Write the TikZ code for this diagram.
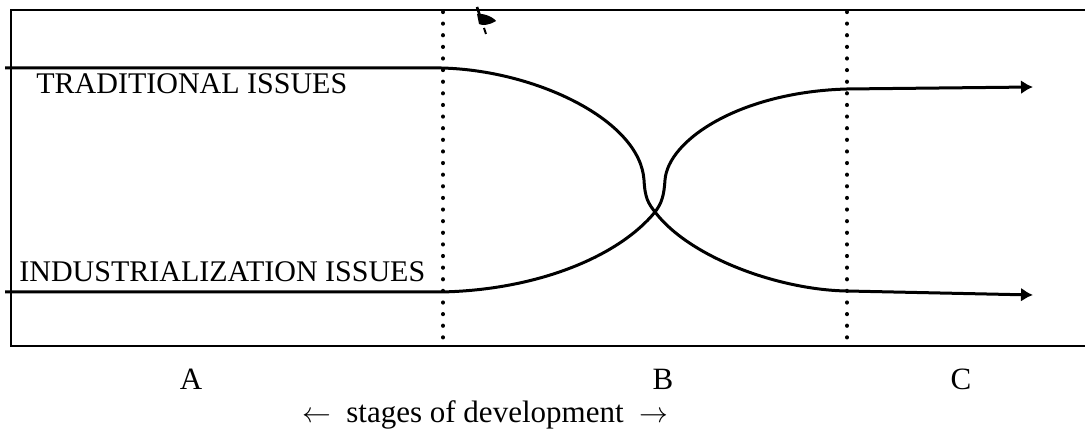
\documentclass[tikz,border=0pt]{standalone}
\usepackage{fontspec}
\setmainfont{Liberation Serif}
\usetikzlibrary{arrows.meta}
\begin{document}
\begin{tikzpicture}[x=0.5pt,y=-0.5pt,
  frame/.style={line width=1.1pt},
  curveline/.style={line width=1.5pt},
  dotline/.style={line width=2.1pt,line cap=round,dash pattern=on 0.01pt off 5.8pt},
  lbl/.style={inner sep=0pt,anchor=base,font=\fontsize{15.5}{18}\selectfont},
  issue/.style={inner sep=0pt,anchor=base west,font=\fontsize{15}{18}\selectfont},
  tip/.style={-{Latex[length=6pt,width=7pt]}}]
\useasboundingbox (0,0) rectangle (1085,431);
% frame
\coordinate (tl) at (11,10);
\coordinate (tr) at (1085,10);
\coordinate (bl) at (11,346);
\coordinate (br) at (1085,346);
\draw[frame] (tr) -- (tl) -- (bl) -- (br);
% dotted stage dividers
\coordinate (d1t) at (443,12);
\coordinate (d1b) at (443,344);
\coordinate (d2t) at (847,12);
\coordinate (d2b) at (847,344);
\draw[dotline] (d1t) -- (d1b);
\draw[dotline] (d2t) -- (d2b);
% traditional issues curve
\coordinate (t0) at (5,68);
\coordinate (t1) at (441,68);
\coordinate (t2) at (644,180);
\coordinate (x) at (655,212);
\coordinate (t3) at (847,291);
\coordinate (t4) at (1033,295);
\draw[curveline,tip] (t0) -- (t1) .. controls (535,70) and (640,120) .. (t2)
  .. controls (645,198) and (648,203) .. (x)
  .. controls (690,258) and (780,290) .. (t3) -- (t4);
% industrialization issues curve
\coordinate (i0) at (5,292);
\coordinate (i1) at (441,292);
\coordinate (i2) at (665,180);
\coordinate (i3) at (847,89);
\coordinate (i4) at (1033,87);
\draw[curveline,tip] (i0) -- (i1) .. controls (540,290) and (620,255) .. (x)
  .. controls (662,203) and (664,195) .. (i2)
  .. controls (668,140) and (740,92) .. (i3) -- (i4);
% small mark near the top
\fill (477,14) .. controls (482,13) and (492,16) .. (496,21)
  .. controls (490,25) and (482,26) .. (479,24) -- cycle;
\draw[line width=1.3pt] (477,7) -- (480,16);
\draw[line width=1pt] (484,28) -- (486,34);
% labels
\node[issue] (trad) at (36,94) {TRADITIONAL ISSUES};
\node[issue] (ind) at (19,282) {INDUSTRIALIZATION ISSUES};
\node[lbl] (A) at (191,390) {A};
\node[lbl] (B) at (663,390) {B};
\node[lbl] (C) at (961,390) {C};
\node[lbl] (stages) at (485,423) {$\leftarrow$\ \ stages of development\ \ $\rightarrow$};
\end{tikzpicture}
\end{document}
